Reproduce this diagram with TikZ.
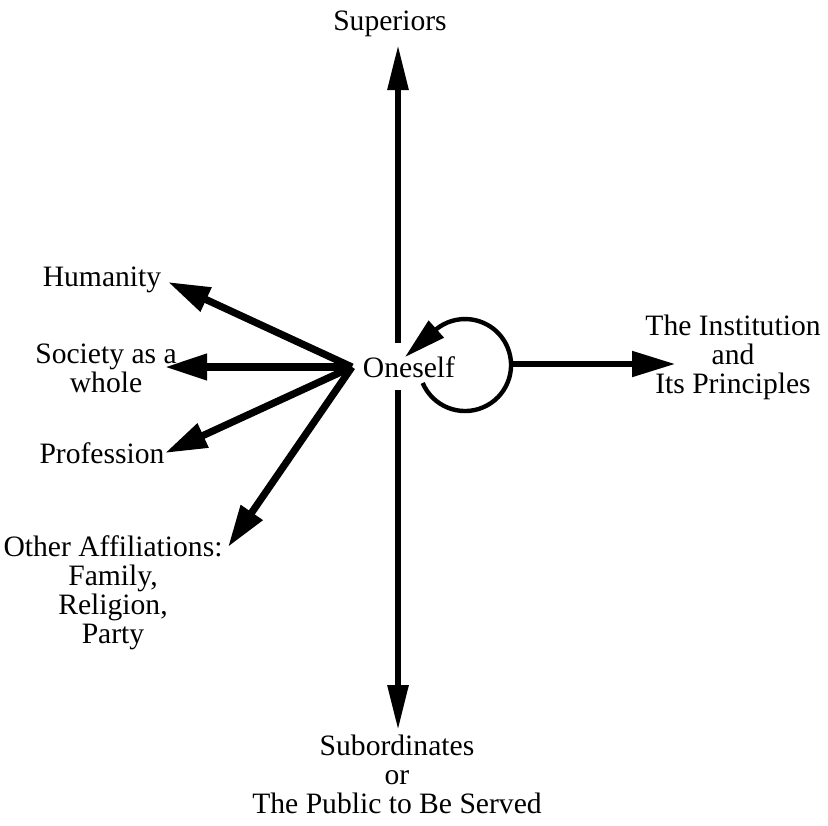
\documentclass[tikz,border=0pt]{standalone}
\usepackage{fontspec}
\setmainfont{Liberation Serif}
\usetikzlibrary{arrows.meta}
\begin{document}
\begin{tikzpicture}[x=0.5pt,y=-0.5pt,
  lbl/.style={font=\fontsize{14.8}{14.4}\selectfont, inner sep=0pt, align=center, anchor=base},
  axis/.style={line width=3pt, -{Triangle[length=22.5pt,width=10pt]}},
  fan/.style={line width=3.6pt, -{Triangle[length=21pt,width=12.5pt]}},
  side/.style={line width=2.6pt, -{Triangle[length=21.5pt,width=12.5pt]}},
  loop/.style={line width=2.2pt}]
\useasboundingbox (0,0) rectangle (828,825);
% labels (multi-line nodes: base = baseline of last line)
\node[lbl] (sup) at (390,30) {Superiors};
\node[lbl] (one) at (409,377) {Oneself};
\node[lbl] (inst) at (733,393) {The Institution\\and\\Its Principles};
\node[lbl] (hum) at (102,286) {Humanity};
\node[lbl] (soc) at (106,392) {Society as a\\whole};
\node[lbl] (prof) at (102,463) {Profession};
\node[lbl] (oth) at (113,643) {Other Affiliations:\\Family,\\Religion,\\Party};
\node[lbl] (sub) at (397,813) {Subordinates\\or\\The Public to Be Served};
% connector points
\coordinate (vtop) at (398,45);
\coordinate (vup) at (398,343);
\coordinate (vlow) at (398,390);
\coordinate (vbot) at (398,730);
\coordinate (o) at (352,367);
\coordinate (thum) at (168,282);
\coordinate (tsoc) at (165,367);
\coordinate (tprof) at (165,453);
\coordinate (toth) at (228,547);
\coordinate (rstart) at (511,364);
\coordinate (rtip) at (675,364);
\coordinate (lstart) at (422.7,383);
\coordinate (ltip) at (405,357);
% axis arrows
\draw[axis] (vup) -- (vtop);
\draw[axis] (vlow) -- (vbot);
% fan arrows
\draw[fan] (o) -- (thum);
\draw[fan] (o) -- (tsoc);
\draw[fan] (o) -- (tprof);
\draw[fan] (o) -- (toth);
% loop
\draw[loop] (lstart) arc[start angle=203, end angle=490, radius=23pt] coordinate (lend);
\draw[loop, -{Triangle[length=21pt,width=11pt]}] (lend) -- (ltip);
% right arrow
\draw[side] (rstart) -- (rtip);
\end{tikzpicture}
\end{document}
